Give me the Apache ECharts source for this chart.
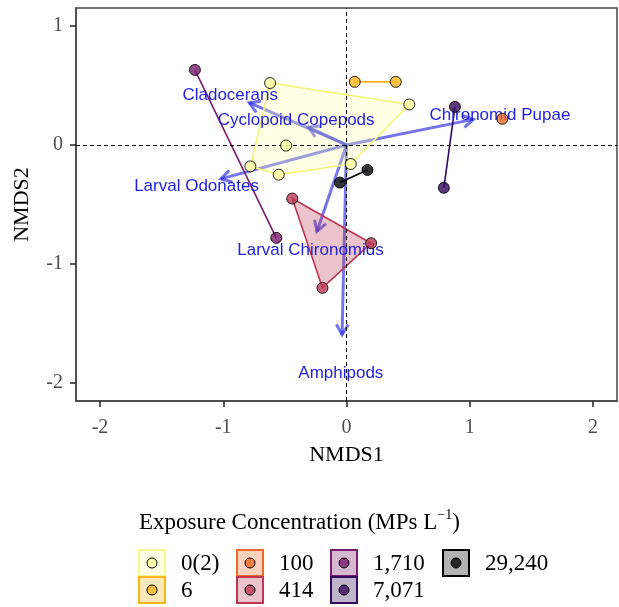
<!DOCTYPE html>
<html>
<head>
<meta charset="utf-8">
<script src="https://cdn.jsdelivr.net/npm/echarts@6/dist/echarts.min.js"></script>
<style>html,body{margin:0;padding:0;background:#fff;}#c{width:619px;height:607px;}</style>
</head>
<body>
<div id="c"></div>
<script>
// ---- data ----
const groups = ['0(2)', '6', '100', '414', '1,710', '7,071', '29,240'];
const pts_0 = [[-0.62, 0.52], [-0.49, -0.005], [-0.78, -0.18], [-0.55, -0.25], [0.51, 0.34], [0.035, -0.16]];
const pts_6 = [[0.067, 0.53], [0.40, 0.53]];
const pts_100 = [[1.265, 0.22]];
const pts_414 = [[-0.44, -0.45], [0.20, -0.825], [-0.195, -1.20]];
const pts_1710 = [[-1.23, 0.63], [-0.57, -0.78]];
const pts_7071 = [[0.88, 0.32], [0.79, -0.36]];
const pts_29240 = [[0.17, -0.21], [-0.054, -0.316]];
const groupPoints = [pts_0, pts_6, pts_100, pts_414, pts_1710, pts_7071, pts_29240];

const speciesNames = ['Cladocerans', 'Cyclopoid Copepods', 'Chironomid Pupae', 'Larval Odonates', 'Larval Chironomids', 'Amphipods'];
const vecX = [-0.79, -0.31, 1.03, -1.02, -0.24, -0.036];
const vecY = [0.355, 0.15, 0.215, -0.285, -0.727, -1.594];
const labX = [-0.944, -0.409, 1.245, -1.217, -0.292, -0.046];
const labY = [0.414, 0.210, 0.245, -0.344, -0.881, -1.915];

const xTicks = [-2, -1, 0, 1, 2];
const yTicks = [-2, -1, 0, 1];

// ---- style / layout ----
const groupColors = ['#FCFFA4', '#FCB519', '#ED6925', '#BB3754', '#781C6D', '#320A5E', '#000004'];
const arrowColor = 'rgba(30,30,228,0.62)';
const labelColor = '#1f1fe0';
const X_MIN = -2.195, X_MAX = 2.195, Y_MIN = -2.15, Y_MAX = 1.15;
const G = { left: 76, top: 8, right: 2, bottom: 206, width: 541, height: 393 };

function rgba(hex, a) {
  const n = parseInt(hex.slice(1), 16);
  return 'rgba(' + ((n >> 16) & 255) + ',' + ((n >> 8) & 255) + ',' + (n & 255) + ',' + a + ')';
}
function hull(points) {
  const p = points.slice().sort((a, b) => a[0] - b[0] || a[1] - b[1]);
  if (p.length < 3) return p;
  const cross = (o, a, b) => (a[0] - o[0]) * (b[1] - o[1]) - (a[1] - o[1]) * (b[0] - o[0]);
  const lower = [], upper = [];
  for (const q of p) { while (lower.length >= 2 && cross(lower[lower.length - 2], lower[lower.length - 1], q) <= 0) lower.pop(); lower.push(q); }
  for (let i = p.length - 1; i >= 0; i--) { const q = p[i]; while (upper.length >= 2 && cross(upper[upper.length - 2], upper[upper.length - 1], q) <= 0) upper.pop(); upper.push(q); }
  upper.pop(); lower.pop();
  return lower.concat(upper);
}

const serif = 'Liberation Serif';
const series = [];

// arrows
series.push({
  type: 'custom', z: 2, silent: true,
  data: vecX.map((x, i) => [x, vecY[i]]),
  encode: { x: 0, y: 1 },
  renderItem: function (params, api) {
    const o = api.coord([0, 0]);
    const t = api.coord([api.value(0), api.value(1)]);
    const ang = Math.atan2(t[1] - o[1], t[0] - o[0]);
    const L = 12, h = Math.PI / 6;
    const w1 = [t[0] - L * Math.cos(ang - h), t[1] - L * Math.sin(ang - h)];
    const w2 = [t[0] - L * Math.cos(ang + h), t[1] - L * Math.sin(ang + h)];
    return {
      type: 'group', children: [
        { type: 'line', shape: { x1: o[0], y1: o[1], x2: t[0], y2: t[1] }, style: { stroke: arrowColor, lineWidth: 3 } },
        { type: 'polyline', shape: { points: [w1, t, w2] }, style: { stroke: arrowColor, lineWidth: 3, fill: null } }
      ]
    };
  }
});

// zero reference lines
series.push({
  type: 'scatter', z: 3, data: [], silent: true,
  markLine: {
    silent: true, symbol: 'none', label: { show: false },
    lineStyle: { color: '#000', type: [4, 3], width: 1 },
    data: [{ xAxis: 0 }, { yAxis: 0 }]
  }
});

// hulls
groupPoints.forEach((pts, gi) => {
  const hp = hull(pts);
  if (hp.length < 2) return;
  series.push({
    type: 'custom', z: 4, silent: true,
    data: hp, encode: { x: 0, y: 1 },
    renderItem: function (params, api) {
      if (params.dataIndex !== 0) return;
      return {
        type: 'polygon',
        shape: { points: hp.map(p => api.coord(p)) },
        style: { fill: rgba(groupColors[gi], 0.3), stroke: gi === 0 ? '#f4f47a' : groupColors[gi], lineWidth: 1.6 }
      };
    }
  });
});

// species labels
series.push({
  type: 'custom', z: 5, silent: true,
  data: labX.map((x, i) => [x, labY[i]]),
  encode: { x: 0, y: 1 },
  renderItem: function (params, api) {
    const l = api.coord([api.value(0), api.value(1)]);
    return { type: 'text', style: { text: speciesNames[params.dataIndex], x: l[0], y: l[1], fill: labelColor, fontSize: 17, fontFamily: 'Liberation Sans', align: 'center', verticalAlign: 'middle' } };
  }
});

// points
groupPoints.forEach((pts, gi) => {
  series.push({
    type: 'scatter', z: 6, name: groups[gi], data: pts, symbolSize: 11,
    itemStyle: { color: rgba(groupColors[gi], 0.8), borderColor: 'rgba(0,0,0,0.85)', borderWidth: 1, opacity: 1 }
  });
});

// legend graphics
const legCols = [139, 237, 331, 443];
const legRows = [550, 577];
const graphic = [{
  type: 'text', left: 139, top: 508,
  style: {
    text: '{n|Exposure Concentration (MPs L}{s|−1}{n|)}',
    rich: {
      n: { fontSize: 23, fontFamily: serif, fill: '#000', lineHeight: 30 },
      s: { fontSize: 14, fontFamily: serif, fill: '#000', verticalAlign: 'top', lineHeight: 30, padding: [0, 0, 12, 0] }
    }
  }
}];
groups.forEach((g, i) => {
  const col = Math.floor(i / 2), row = i % 2;
  const x = legCols[col], y = legRows[row];
  graphic.push({ type: 'rect', shape: { x: x, y: y, width: 26, height: 26 }, style: { fill: rgba(groupColors[i], 0.3), stroke: i === 0 ? '#f8f890' : groupColors[i], lineWidth: 2 } });
  graphic.push({ type: 'circle', shape: { cx: x + 13, cy: y + 13, r: 5 }, style: { fill: rgba(groupColors[i], 0.8), stroke: '#000', lineWidth: 1 } });
  graphic.push({ type: 'text', x: x + 42, y: y + 14, style: { text: g, fontSize: 23, fontFamily: serif, fill: '#000', verticalAlign: 'middle' } });
});

// tick grid: spans exactly the tick range so default interval ticks land on the same pixels
const pxX = v => G.left + (v - X_MIN) / (X_MAX - X_MIN) * G.width;
const pxY = v => G.top + (Y_MAX - v) / (Y_MAX - Y_MIN) * G.height;
const tX0 = xTicks[0], tX1 = xTicks[xTicks.length - 1];
const tY0 = yTicks[0], tY1 = yTicks[yTicks.length - 1];
const tickGrid = {
  left: pxX(tX0), right: 619 - pxX(tX1), top: pxY(tY1), bottom: 607 - pxY(tY0), show: false
};
const tickStyle = { show: true, inside: false, length: 6, lineStyle: { color: '#222', width: 1.5 } };

const axisCommon = {
  type: 'value', splitLine: { show: false },
  axisLine: { show: true, onZero: false, lineStyle: { color: '#444', width: 1.5 } },
  axisTick: Object.assign({}, tickStyle),
  axisLabel: { fontFamily: serif, fontSize: 20, color: '#4d4d4d' },
  nameLocation: 'middle',
  nameTextStyle: { fontFamily: serif, fontSize: 22, color: '#000' }
};

const option = {
  animation: false,
  backgroundColor: '#fff',
  grid: [
    { left: G.left, top: G.top, right: G.right, bottom: G.bottom, show: true, borderColor: '#444', borderWidth: 1.5, backgroundColor: 'transparent' },
    tickGrid
  ],
  xAxis: [
    Object.assign({}, axisCommon, {
      gridIndex: 0, min: X_MIN, max: X_MAX, name: 'NMDS1', nameGap: 43,
      axisTick: Object.assign({}, tickStyle, { customValues: xTicks }),
      axisLabel: Object.assign({}, axisCommon.axisLabel, { customValues: xTicks, margin: 17 })
    }),
    {
      type: 'value', gridIndex: 1, min: tX0, max: tX1, interval: 1, position: 'bottom',
      offset: (G.top + G.height) - pxY(tY0),
      axisLine: { show: false, onZero: false }, splitLine: { show: false },
      axisLabel: { show: false }, axisTick: tickStyle
    }
  ],
  yAxis: [
    Object.assign({}, axisCommon, {
      gridIndex: 0, min: Y_MIN, max: Y_MAX, name: 'NMDS2', nameGap: 43,
      axisTick: Object.assign({}, tickStyle, { customValues: yTicks }),
      axisLabel: Object.assign({}, axisCommon.axisLabel, { customValues: yTicks, margin: 13 })
    }),
    {
      type: 'value', gridIndex: 1, min: tY0, max: tY1, interval: 1, position: 'left',
      offset: pxX(tX0) - G.left,
      axisLine: { show: false, onZero: false }, splitLine: { show: false },
      axisLabel: { show: false }, axisTick: tickStyle
    }
  ],
  graphic: graphic,
  series: series
};
const chart = echarts.init(document.getElementById('c'), null, { renderer: 'canvas' });
chart.setOption(option);
</script>
</body>
</html>
